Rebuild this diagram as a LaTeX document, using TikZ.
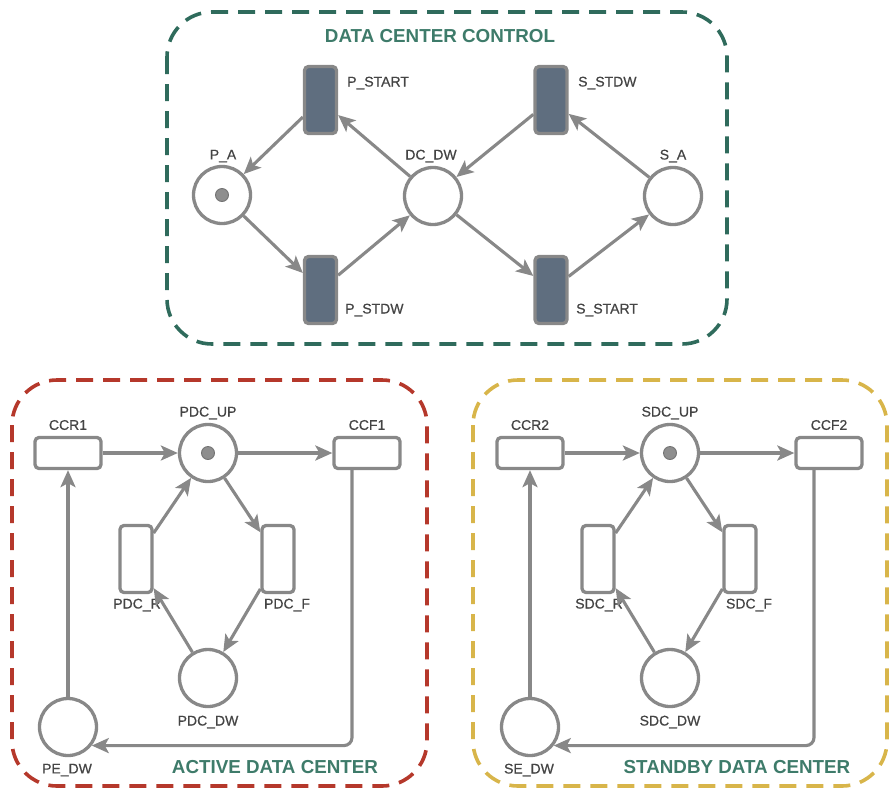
\documentclass[tikz,border=0pt]{standalone}
\usepackage{fontspec}
\setmainfont{Liberation Sans}
\newfontfamily\lblfont[FakeBold=0.7]{Liberation Sans}
\usetikzlibrary{arrows.meta,calc}

\definecolor{edgegray}{HTML}{888888}
\definecolor{labelgray}{HTML}{444444}
\definecolor{slatefill}{HTML}{5F6E7F}
\definecolor{tokengray}{HTML}{8E8E8E}
\definecolor{titleteal}{HTML}{3E7B6A}
\definecolor{ctrlteal}{HTML}{2F6B5C}
\definecolor{activered}{HTML}{B5382B}
\definecolor{standbyyellow}{HTML}{D8B54A}

\tikzset{
  zone/.style={line width=3.6pt, dash pattern=on 17pt off 10pt, rounded corners=45pt},
  place/.style={circle, draw=edgegray, line width=3.3pt, fill=white,
                minimum size=57pt, inner sep=0pt},
  vtrans/.style={rectangle, rounded corners=4pt, draw=edgegray, line width=3.3pt,
                 fill=white, minimum width=32pt, minimum height=67pt, inner sep=0pt},
  darktrans/.style={vtrans, fill=slatefill},
  htrans/.style={rectangle, rounded corners=4pt, draw=edgegray, line width=3.3pt,
                 fill=white, minimum width=66pt, minimum height=31pt, inner sep=0pt},
  lbl/.style={font=\lblfont\fontsize{14}{16}\selectfont, text=labelgray, inner sep=0pt},
  zonetitle/.style={font=\bfseries\fontsize{18.8}{22}\selectfont, text=titleteal, inner sep=0pt},
  flow/.style={draw=edgegray, line width=3.1pt,
               -{Stealth[length=17pt, width=15pt, inset=4pt]}},
  tokenmark/.style={fill=tokengray, draw=gray!90!black, line width=0.9pt}
}

\begin{document}
\begin{tikzpicture}[x=1pt, y=-1pt]
\useasboundingbox (0,0) rectangle (891,793);

% ---------- zone frames ----------
\draw[zone, draw=ctrlteal] (167,12) rectangle (727,344);
\draw[zone, draw=activered] (12,380) rectangle (427,786);
\draw[zone, draw=standbyyellow] (473,380) rectangle (887,786);

% ---------- data center control ----------
\node[zonetitle] (t_ctrl) at (440,36) {DATA CENTER CONTROL};

\node[place] (P_A)   at (222,195) {};
\node[place] (DC_DW) at (433,196) {};
\node[place] (S_A)   at (673,196) {};
\node[darktrans] (P_START) at (320.5,100) {};
\node[darktrans] (S_STDW)  at (551,100) {};
\node[darktrans] (P_STDW)  at (320.5,290) {};
\node[darktrans] (S_START) at (551,290) {};
\draw[tokenmark] (P_A) circle (6.5pt);

\node[lbl] (l_pa)   at (223,156) {P\_A};
\node[lbl] (l_dcdw) at (431,156) {DC\_DW};
\node[lbl] (l_sa)   at (673,156) {S\_A};
\node[lbl, anchor=west] (l_pstart) at (347,83)  {P\_START};
\node[lbl, anchor=west] (l_sstdw)  at (578,83)  {S\_STDW};
\node[lbl, anchor=west] (l_pstdw)  at (345,310) {P\_STDW};
\node[lbl, anchor=west] (l_sstart) at (576,310) {S\_START};

\draw[flow] (P_START) -- (P_A);
\draw[flow] (DC_DW) -- (P_START);
\draw[flow] (S_STDW) -- (DC_DW);
\draw[flow] (S_A) -- (S_STDW);
\draw[flow] (P_A) -- (P_STDW);
\draw[flow] (P_STDW) -- (DC_DW);
\draw[flow] (DC_DW) -- (S_START);
\draw[flow] (S_START) -- (S_A);

% ---------- active data center ----------
\node[zonetitle] (t_active) at (275,767) {ACTIVE DATA CENTER};

\node[htrans] (CCR1)   at (68,453)  {};
\node[place]  (PDC_UP) at (208,453) {};
\node[htrans] (CCF1)   at (367,453) {};
\node[vtrans] (PDC_R)  at (136,559) {};
\node[vtrans] (PDC_F)  at (278,559) {};
\node[place]  (PDC_DW) at (208,678) {};
\node[place]  (PE_DW)  at (68,727)  {};
\draw[tokenmark] (PDC_UP) circle (6.5pt);

\node[lbl] (l_ccr1)  at (68,425)  {CCR1};
\node[lbl] (l_pdcup) at (208,413) {PDC\_UP};
\node[lbl] (l_ccf1)  at (367,425) {CCF1};
\node[lbl] (l_pdcr)  at (137,605) {PDC\_R};
\node[lbl] (l_pdcf)  at (287,605) {PDC\_F};
\node[lbl] (l_pdcdw) at (208,722) {PDC\_DW};
\node[lbl] (l_pedw)  at (67,770)  {PE\_DW};

\draw[flow] (CCR1) -- (PDC_UP);
\draw[flow] (PDC_UP) -- (CCF1);
\draw[flow] (PE_DW) -- (CCR1);
\draw[flow] (PDC_R) -- (PDC_UP);
\draw[flow] (PDC_UP) -- (PDC_F);
\draw[flow] (PDC_F) -- (PDC_DW);
\draw[flow] (PDC_DW) -- (PDC_R);
\draw[flow, rounded corners=8pt] ([xshift=-15pt]CCF1.south) |- (PE_DW.-38);

% ---------- standby data center ----------
\node[zonetitle] (t_standby) at (737,767) {STANDBY DATA CENTER};

\node[htrans] (CCR2)   at (530,453) {};
\node[place]  (SDC_UP) at (670,453) {};
\node[htrans] (CCF2)   at (829,453) {};
\node[vtrans] (SDC_R)  at (598,559) {};
\node[vtrans] (SDC_F)  at (740,559) {};
\node[place]  (SDC_DW) at (670,678) {};
\node[place]  (SE_DW)  at (530,727) {};
\draw[tokenmark] (SDC_UP) circle (6.5pt);

\node[lbl] (l_ccr2)  at (530,425) {CCR2};
\node[lbl] (l_sdcup) at (670,413) {SDC\_UP};
\node[lbl] (l_ccf2)  at (829,425) {CCF2};
\node[lbl] (l_sdcr)  at (599,605) {SDC\_R};
\node[lbl] (l_sdcf)  at (749,605) {SDC\_F};
\node[lbl] (l_sdcdw) at (670,722) {SDC\_DW};
\node[lbl] (l_sedw)  at (529,770) {SE\_DW};

\draw[flow] (CCR2) -- (SDC_UP);
\draw[flow] (SDC_UP) -- (CCF2);
\draw[flow] (SE_DW) -- (CCR2);
\draw[flow] (SDC_R) -- (SDC_UP);
\draw[flow] (SDC_UP) -- (SDC_F);
\draw[flow] (SDC_F) -- (SDC_DW);
\draw[flow] (SDC_DW) -- (SDC_R);
\draw[flow, rounded corners=8pt] ([xshift=-15pt]CCF2.south) |- (SE_DW.-38);

\end{tikzpicture}
\end{document}
